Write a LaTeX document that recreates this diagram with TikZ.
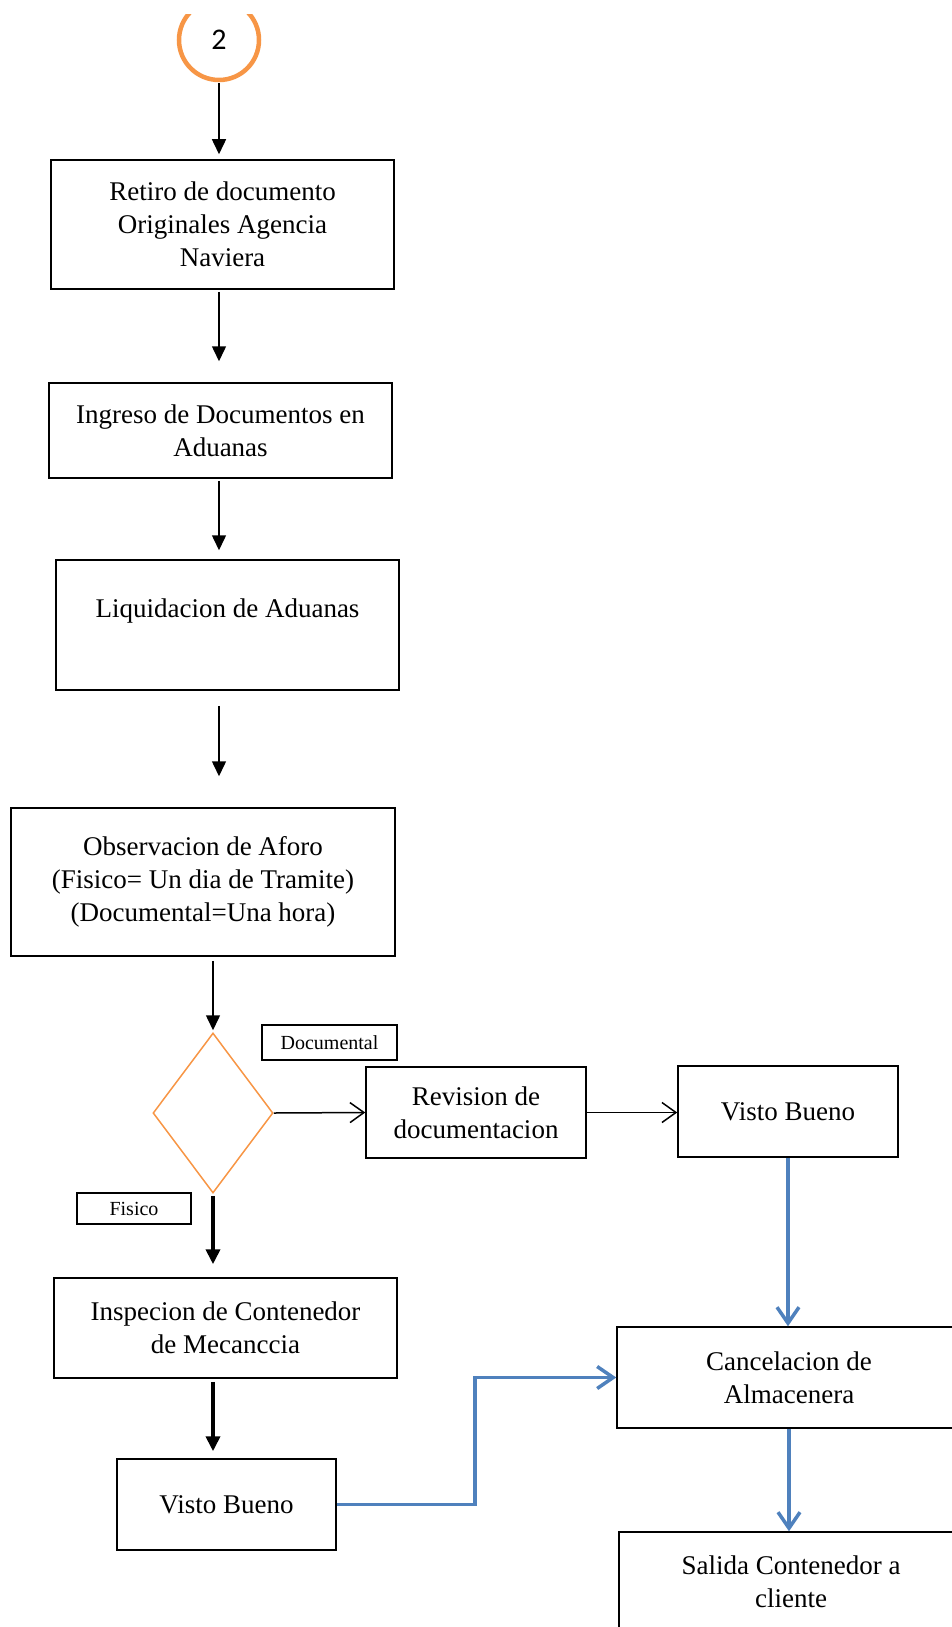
\documentclass[tikz,border=0pt]{standalone}
\usepackage{fontspec}
\setmainfont{Liberation Serif}
\newfontfamily\calibrifont{Carlito}
\usepackage{tikz}
\usetikzlibrary{shapes.geometric, arrows.meta, positioning, calc}
\definecolor{OfficeOrange}{HTML}{F79646}
\definecolor{OfficeBlue}{HTML}{4F81BD}

\begin{document}
\begin{tikzpicture}[
    x=1pt, y=-1pt,
    procbox/.style={draw=black, line width=1.5pt, align=center, inner sep=0pt, font=\fontsize{27}{33}\selectfont},
    tagbox/.style={draw=black, line width=1.5pt, inner sep=0pt, font=\fontsize{20}{24}\selectfont},
    decision/.style={diamond, draw=OfficeOrange, line width=1.5pt, inner sep=0pt, minimum width=120pt, minimum height=160pt},
    startcircle/.style={circle, draw=OfficeOrange, line width=4.5pt, minimum size=80pt, inner sep=0pt, font=\calibrifont\fontsize{30}{34}\selectfont},
    flow/.style={-{Triangle[length=15pt, width=14pt]}, line width=1.5pt},
    thickflow/.style={-{Triangle[length=15pt, width=14pt]}, line width=4pt},
    branch/.style={-{Straight Barb[length=14pt, width=20pt]}, line width=1.5pt},
    blueflow/.style={-{Straight Barb[length=16pt, width=22pt]}, draw=OfficeBlue, line width=3.5pt}
  ]
    \useasboundingbox (0,0) rectangle (951,1627);

    % Conector (arriba, cortado)
    \begin{scope}
      \clip (0,15) rectangle (951,200);
      \node[startcircle] (start) at (219,40) {2};
    \end{scope}

    % Columna izquierda
    \node[procbox, minimum width=343pt, minimum height=129pt] (ret) at (222.5,224.5) {Retiro de documento\\Originales Agencia\\Naviera};
    \node[procbox, minimum width=343pt, minimum height=95pt] (ing) at (220.5,430.5) {Ingreso de Documentos en\\Aduanas};
    \node[procbox, minimum width=343pt, minimum height=130pt] (liq) at (227.5,625) {Liquidacion de Aduanas\\~};
    \node[procbox, minimum width=384pt, minimum height=148pt] (obs) at (203,882) {Observacion de Aforo\\(Fisico= Un dia de Tramite)\\(Documental=Una hora)};

    % Decision (centro)
    \node[decision] (dec) at (213,1113) {};
    \node[tagbox, minimum width=135pt, minimum height=35pt] (tagdoc) at (329.5,1042.5) {Documental};
    \node[tagbox, minimum width=114pt, minimum height=31pt] (tagfis) at (134,1208.5) {Fisico};

    % Rama documental (derecha)
    \node[procbox, minimum width=220pt, minimum height=91pt] (rev) at (476,1112.5) {Revision de\\documentacion};
    \node[procbox, minimum width=220pt, minimum height=91pt] (vbdoc) at (788,1111.5) {Visto Bueno};

    % Rama fisica (abajo izq)
    \node[procbox, minimum width=343pt, minimum height=100pt] (ins) at (225.5,1328) {Inspecion de Contenedor\\de Mecanccia};
    \node[procbox, minimum width=219pt, minimum height=91pt] (vbfis) at (226.5,1504.5) {Visto Bueno};

    % Salida (abajo der)
    \node[procbox, minimum width=344pt, minimum height=101pt] (can) at (789,1377.5) {Cancelacion de\\Almacenera};
    \node[procbox, minimum width=344pt, minimum height=100pt] (sal) at (791,1582) {Salida Contenedor a\\cliente};

    % Flechas
    \draw[flow, shorten <=1pt, shorten >=5pt] (start.south) -- (start.south |- ret.north);
    \draw[flow, shorten <=2pt, shorten >=21pt] (ret.south -| start) -- (ing.north -| start);
    \draw[flow, shorten <=2pt, shorten >=9pt] (ing.south -| start) -- (liq.north -| start);
    \draw[flow, shorten <=15pt, shorten >=31pt] (liq.south -| start) -- (obs.north -| start);
    \draw[flow, shorten <=4pt, shorten >=2pt] (obs.south -| dec) -- (dec.north);
    \draw[thickflow, shorten <=2pt, shorten >=13pt] (dec.south) -- (ins.north -| dec);
    \draw[thickflow, shorten <=3pt, shorten >=7pt] (ins.south -| dec) -- (vbfis.north -| dec);
    \draw[branch] (dec.east) -- (rev.west);
    \draw[branch] (rev.east) -- (rev.east -| vbdoc.west);

    % Flechas azules
    \coordinate (bend) at (475,1440);
    \draw[blueflow] (vbdoc.south) -- (vbdoc.south |- can.north);
    \draw[blueflow] (vbfis.east) -| (bend) |- (can.west);
    \draw[blueflow] (can.south) -- (can.south |- sal.north);
  \end{tikzpicture}
\end{document}
